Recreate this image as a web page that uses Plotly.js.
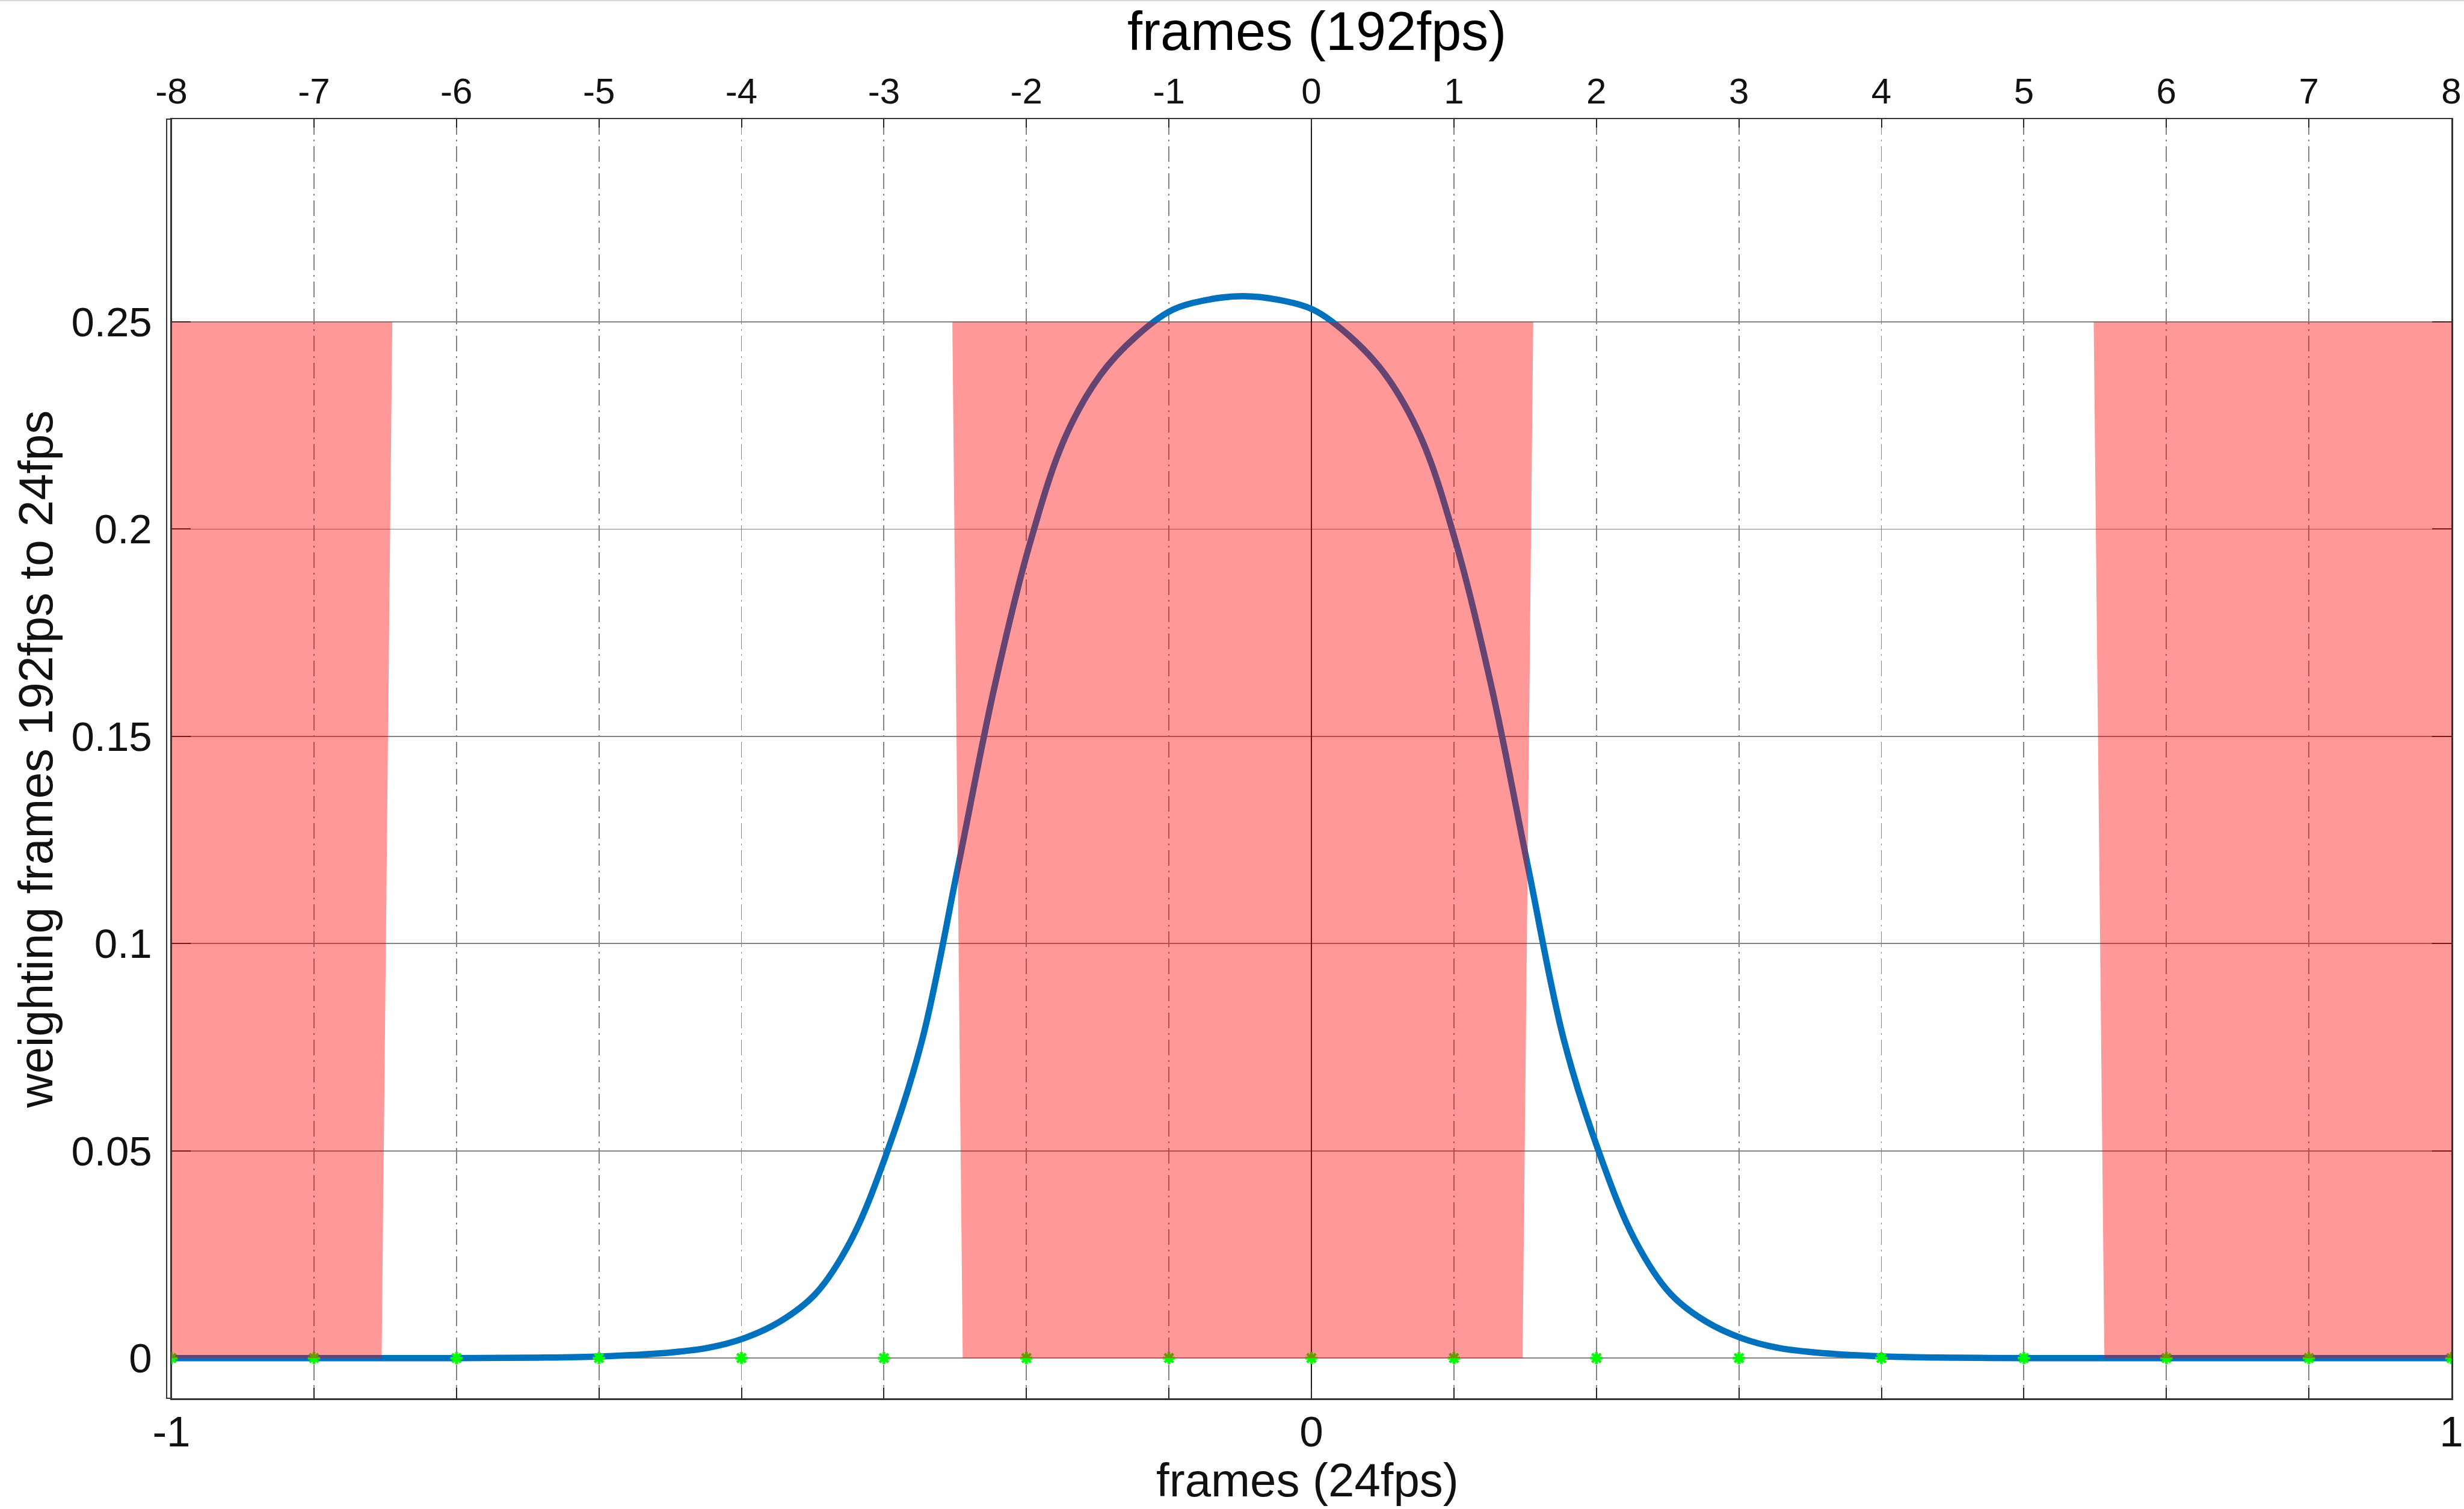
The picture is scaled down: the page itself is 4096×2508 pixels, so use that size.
<!DOCTYPE html>
<html>
<head>
<meta charset="utf-8">
<script src="https://cdn.plot.ly/plotly-3.0.1.min.js"></script>
<style>
  html, body { margin: 0; padding: 0; background: #ffffff; }
  #chart { width: 4096px; height: 2508px; }
</style>
</head>
<body>
<div id="chart"></div>
<script>
// Weighting kernel used to blend 192fps frames down to 24fps, sampled in 192fps frame units.
const frames192 = [-8, -7, -6.5, -5.98, -5.48, -4.98, -4.48, -4.23, -3.98, -3.73, -3.48, -3.23, -2.98,
  -2.73, -2.48, -2.23, -1.98, -1.73, -1.48, -1.23, -0.98, -0.73, -0.48, -0.23, 0.02, 0.27, 0.52,
  0.77, 1.02, 1.27, 1.52, 1.77, 2.02, 2.27, 2.52, 2.77, 3.02, 3.27, 3.52, 4.02, 4.52, 5.02, 5.5, 6, 7, 8];
const weights = [0, 0, 0, 0, 0.0001, 0.0004, 0.0014, 0.0025, 0.0048, 0.0088, 0.0155, 0.0285, 0.0495,
  0.077, 0.1185, 0.161, 0.196, 0.222, 0.2372, 0.2465, 0.2528, 0.2553, 0.2562, 0.2553, 0.2528, 0.2465, 0.2372,
  0.222, 0.196, 0.161, 0.1185, 0.077, 0.0495, 0.0285, 0.0155, 0.0088, 0.0048, 0.0025, 0.0014, 0.0004, 0.0001, 0, 0, 0, 0, 0];

// Integer 192fps sample instants (all drawn on the zero level).
const sampleFrames = [-8, -7, -6, -5, -4, -3, -2, -1, 0, 1, 2, 3, 4, 5, 6, 7, 8];
const sampleLevel = [0, 0, 0, 0, 0, 0, 0, 0, 0, 0, 0, 0, 0, 0, 0, 0, 0];

// Shutter-open intervals (192fps frames), slightly wider at the top than at the bottom.
const shutterTopStart = [-10.52, -2.52, 5.49];
const shutterTopEnd = [-6.45, 1.557, 9.56];
const shutterBottomStart = [-10.45, -2.447, 5.565];
const shutterBottomEnd = [-6.525, 1.482, 9.49];
const shutterLow = 0;
const shutterHigh = 0.25;

// Axis ticks.
const topTicks = [-8, -7, -6, -5, -4, -3, -2, -1, 0, 1, 2, 3, 4, 5, 6, 7, 8];
const topTickText = ['-8', '-7', '-6', '-5', '-4', '-3', '-2', '-1', '0', '1', '2', '3', '4', '5', '6', '7', '8'];
const bottomTicks = [-1, -0.875, -0.75, -0.625, -0.5, -0.375, -0.25, -0.125, 0,
  0.125, 0.25, 0.375, 0.5, 0.625, 0.75, 0.875, 1];
const bottomTickText = ['-1', '', '', '', '', '', '', '', '0', '', '', '', '', '', '', '', '1'];
const yTicks = [0, 0.05, 0.1, 0.15, 0.2, 0.25];
const yTickText = ['0', '0.05', '0.1', '0.15', '0.2', '0.25'];

const FONT = '"Liberation Sans", Arial, Helvetica, sans-serif';
const INK = '#111111';

const traces = [];

// keeps the bottom (24fps) axis in the figure
traces.push({
  x: [], y: [], xaxis: 'x', yaxis: 'y', type: 'scatter', mode: 'lines',
  showlegend: false, hoverinfo: 'skip'
});

traces.push({
  x: frames192, y: weights, xaxis: 'x2', yaxis: 'y', type: 'scatter', mode: 'lines',
  line: { color: '#0072BD', width: 10.5, shape: 'spline', smoothing: 1 },
  showlegend: false
});

traces.push({
  x: sampleFrames, y: sampleLevel, xaxis: 'x2', yaxis: 'y', type: 'scatter', mode: 'markers',
  marker: { symbol: 'asterisk-open', size: 17, color: '#00ff00', line: { color: '#00ff00', width: 4.5 } },
  showlegend: false
});

for (let i = 0; i < shutterTopStart.length; i++) {
  traces.push({
    x: [shutterBottomStart[i], shutterTopStart[i], shutterTopEnd[i], shutterBottomEnd[i], shutterBottomStart[i]],
    y: [shutterLow, shutterHigh, shutterHigh, shutterLow, shutterLow],
    xaxis: 'x2', yaxis: 'y', type: 'scatter', mode: 'lines', fill: 'toself',
    fillcolor: 'rgba(255,0,0,0.4)', line: { width: 0, color: 'rgba(255,0,0,0)' },
    showlegend: false, hoverinfo: 'skip'
  });
}

const gridGray = '#848484';

const layout = {
  width: 4096,
  height: 2508,
  margin: { l: 285, r: 21, t: 198, b: 184, pad: 0 },
  paper_bgcolor: '#ffffff',
  plot_bgcolor: '#ffffff',
  font: { family: FONT, color: INK },
  showlegend: false,
  xaxis: {
    range: [-1, 1],
    side: 'bottom',
    tickmode: 'array', tickvals: bottomTicks, ticktext: bottomTickText,
    ticks: 'inside', ticklen: 18, tickwidth: 2, tickcolor: '#262626',
    tickfont: { family: FONT, size: 71, color: INK },
    ticklabelstandoff: -8,
    showgrid: false, zeroline: false,
    showline: true, linecolor: '#333333', linewidth: 2.5, mirror: false
  },
  xaxis2: {
    range: [-8, 8],
    overlaying: 'x', anchor: 'y', side: 'top',
    tickmode: 'array', tickvals: topTicks, ticktext: topTickText,
    ticks: 'inside', ticklen: 14, tickwidth: 2, tickcolor: '#262626',
    tickfont: { family: FONT, size: 60, color: INK },
    showgrid: true, gridcolor: gridGray, gridwidth: 1.8, griddash: '26px,8px,3px,8px',
    zeroline: true, zerolinecolor: '#1a1a1a', zerolinewidth: 1.8,
    showline: true, linecolor: '#333333', linewidth: 2.5, mirror: false
  },
  yaxis: {
    range: [-0.0097, 0.2989],
    tickmode: 'array', tickvals: yTicks, ticktext: yTickText,
    ticks: 'inside', ticklen: 32, tickwidth: 2, tickcolor: '#262626',
    tickfont: { family: FONT, size: 69, color: INK },
    ticklabelstandoff: 16,
    showgrid: true, gridcolor: gridGray, gridwidth: 1.6,
    zeroline: false,
    showline: true, linecolor: '#333333', linewidth: 2.5, mirror: 'ticks',
    layer: 'below traces'
  },
  annotations: [
    {
      text: 'frames (192fps)', xref: 'paper', yref: 'paper', x: 0.5024, y: 1.0443,
      xanchor: 'center', yanchor: 'bottom', showarrow: false,
      font: { family: FONT, size: 90, color: '#000000' }
    },
    {
      text: 'frames (24fps)', xref: 'paper', yref: 'paper', x: 0.4982, y: -0.0858,
      xanchor: 'center', yanchor: 'bottom', showarrow: false,
      font: { family: FONT, size: 78, color: INK }
    },
    {
      text: 'weighting frames 192fps to 24fps', xref: 'paper', yref: 'paper', x: -0.0472, y: 0.4992,
      xanchor: 'right', yanchor: 'middle', textangle: -90, showarrow: false,
      font: { family: FONT, size: 79, color: INK }
    }
  ],
  shapes: [
    // thin rule along the top edge of the figure
    {
      type: 'line', xref: 'paper', yref: 'paper', x0: -0.08, x1: 1.01, y0: 1.0928, y1: 1.0928,
      line: { color: '#d6d6d6', width: 2 }
    },
    // outer left edge of the axes box
    {
      type: 'rect', xref: 'paper', yref: 'paper', x0: -0.0021, x1: 0, y0: 0, y1: 1,
      line: { color: '#333333', width: 2 }, fillcolor: 'rgba(0,0,0,0)', layer: 'below'
    }
  ]
};

Plotly.newPlot('chart', traces, layout, { staticPlot: true, displayModeBar: false });
</script>
</body>
</html>
